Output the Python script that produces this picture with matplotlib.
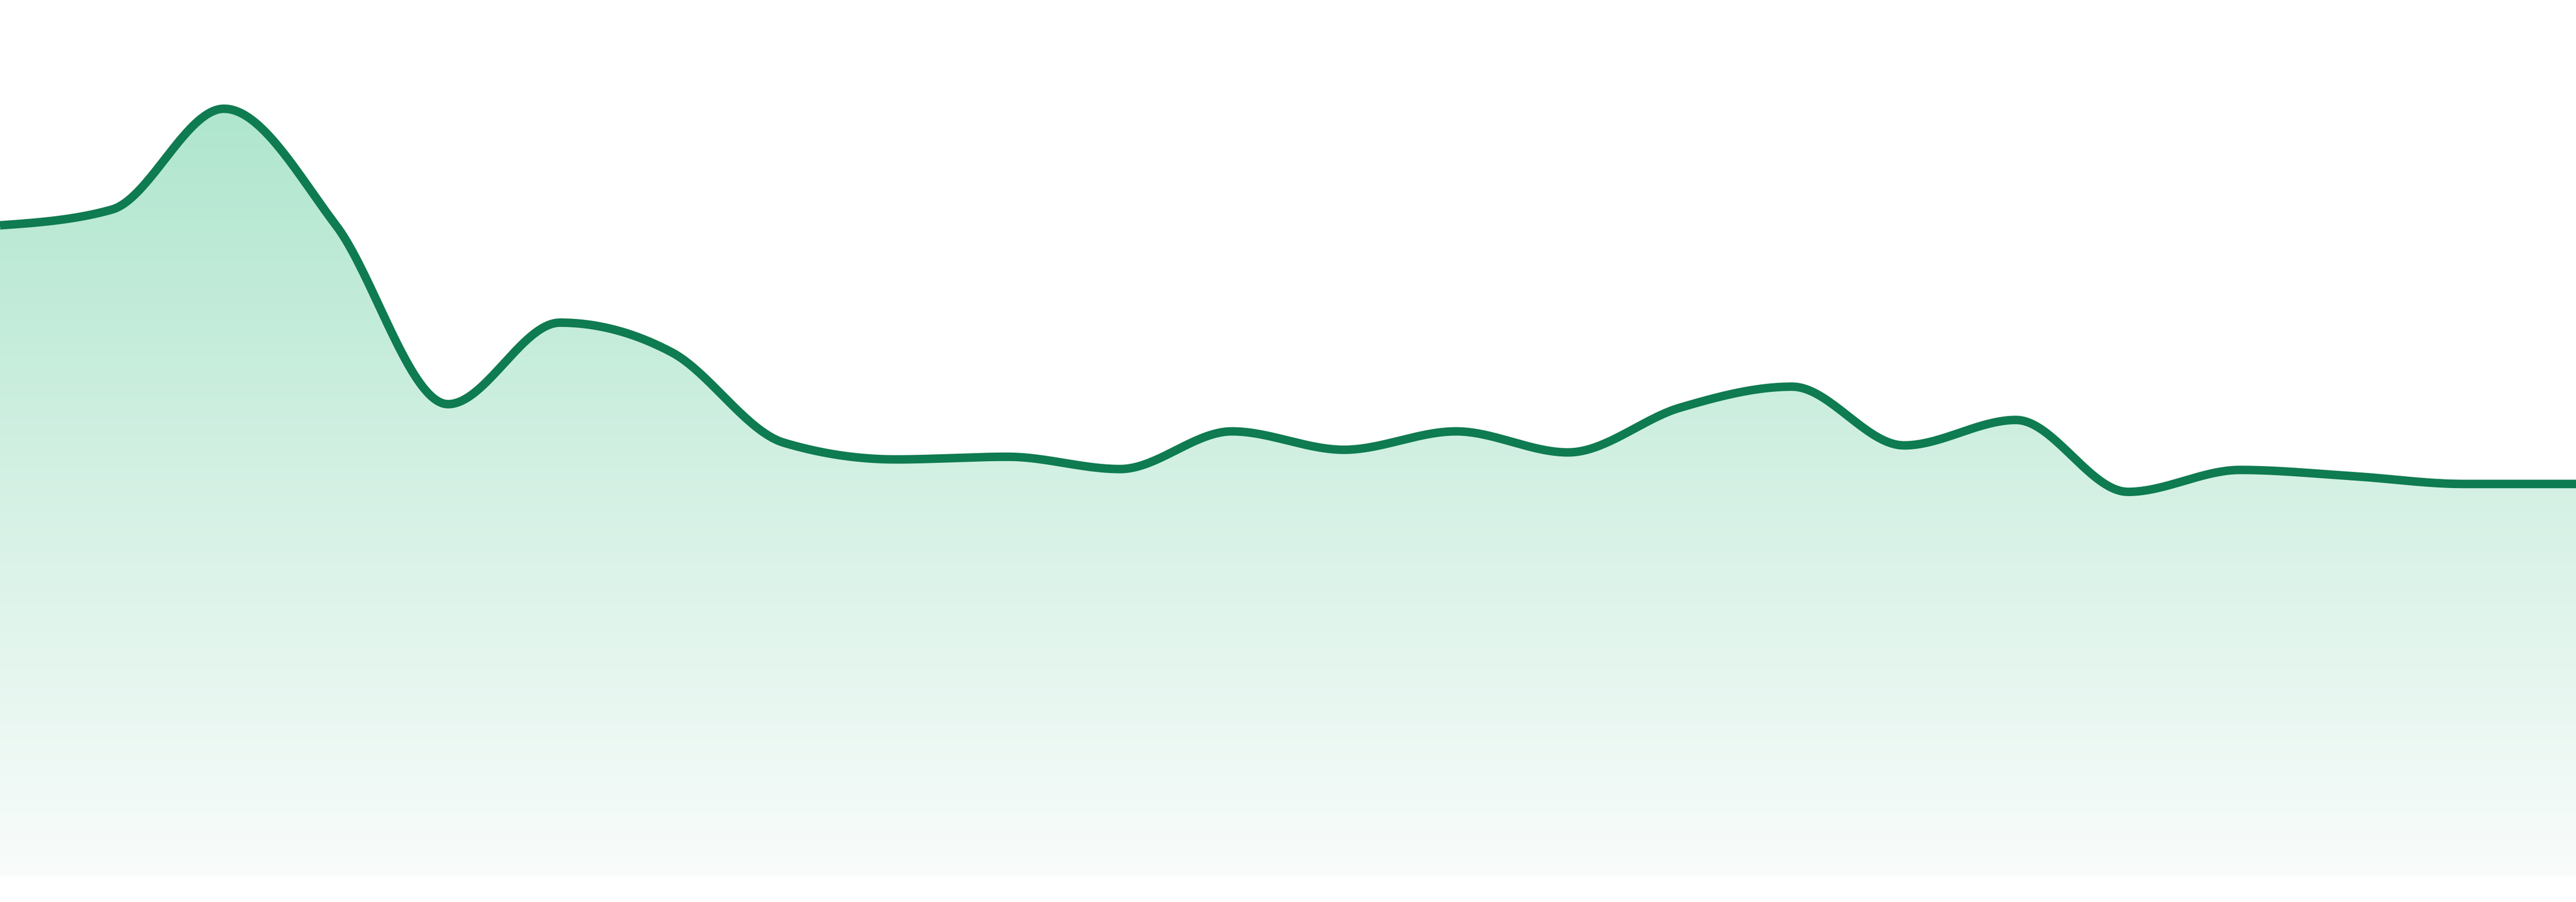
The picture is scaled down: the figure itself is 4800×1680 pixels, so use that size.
import numpy as np
import matplotlib
matplotlib.use("Agg")
import matplotlib.pyplot as plt

# one value per step
values = [74.3, 76.1, 87.6, 74.3, 53.9, 63.2, 59.8, 49.5, 47.6, 47.9, 46.5, 50.8,
          48.7, 50.8, 48.4, 53.5, 55.9, 49.2, 52.1, 43.9, 46.4, 45.7, 44.8, 44.8]
line_color = "#0f7b50"
fill_top = (176, 230, 206)
fill_bottom = (249, 252, 251)


def monotone_x(x, y, n=40):
    # monotone cubic like d3.curveMonotoneX
    x = np.asarray(x, float)
    y = np.asarray(y, float)
    h = np.diff(x)
    s = np.diff(y) / h
    t = np.zeros_like(y)
    for i in range(1, len(y) - 1):
        p = (s[i - 1] * h[i] + s[i] * h[i - 1]) / (h[i - 1] + h[i])
        t[i] = (np.sign(s[i - 1]) + np.sign(s[i])) * min(abs(s[i - 1]), abs(s[i]), 0.5 * abs(p))
    t[0] = (3 * s[0] - t[1]) / 2
    t[-1] = (3 * s[-1] - t[-2]) / 2
    xs, ys = [], []
    for i in range(len(h)):
        u = np.linspace(0, 1, n, endpoint=False)
        h00 = 2 * u**3 - 3 * u**2 + 1
        h10 = u**3 - 2 * u**2 + u
        h01 = -2 * u**3 + 3 * u**2
        h11 = u**3 - u**2
        xs.append(x[i] + u * h[i])
        ys.append(h00 * y[i] + h10 * h[i] * t[i] + h01 * y[i + 1] + h11 * h[i] * t[i + 1])
    xs.append([x[-1]])
    ys.append([y[-1]])
    return np.concatenate(xs), np.concatenate(ys)


x = np.arange(len(values))
xs, ys = monotone_x(x, values)

fig = plt.figure(figsize=(16, 5.6), dpi=300)
ax = fig.add_axes([0, 0, 1, 1])
ax.set_xlim(0, len(values) - 1)
ax.set_ylim(-2.88, 100)
ax.axis("off")

# vertical gradient under the curve
v = np.linspace(100, 0, 400)
f = np.clip((87.1 - v) / 87.1, 0, 1)[:, None]
top = np.array(fill_top) / 255
bot = np.array(fill_bottom) / 255
grad = (top + (bot - top) * f).reshape(400, 1, 3)
img = ax.imshow(grad, extent=[0, len(values) - 1, 0, 100], aspect="auto", zorder=1)
poly = ax.fill_between(xs, ys, 0, facecolor="none", edgecolor="none")
img.set_clip_path(poly.get_paths()[0], transform=ax.transData)

ax.plot(xs, ys, color=line_color, lw=3.8, solid_capstyle="butt", zorder=3)

fig.savefig("out.png", dpi=300, facecolor="white")
